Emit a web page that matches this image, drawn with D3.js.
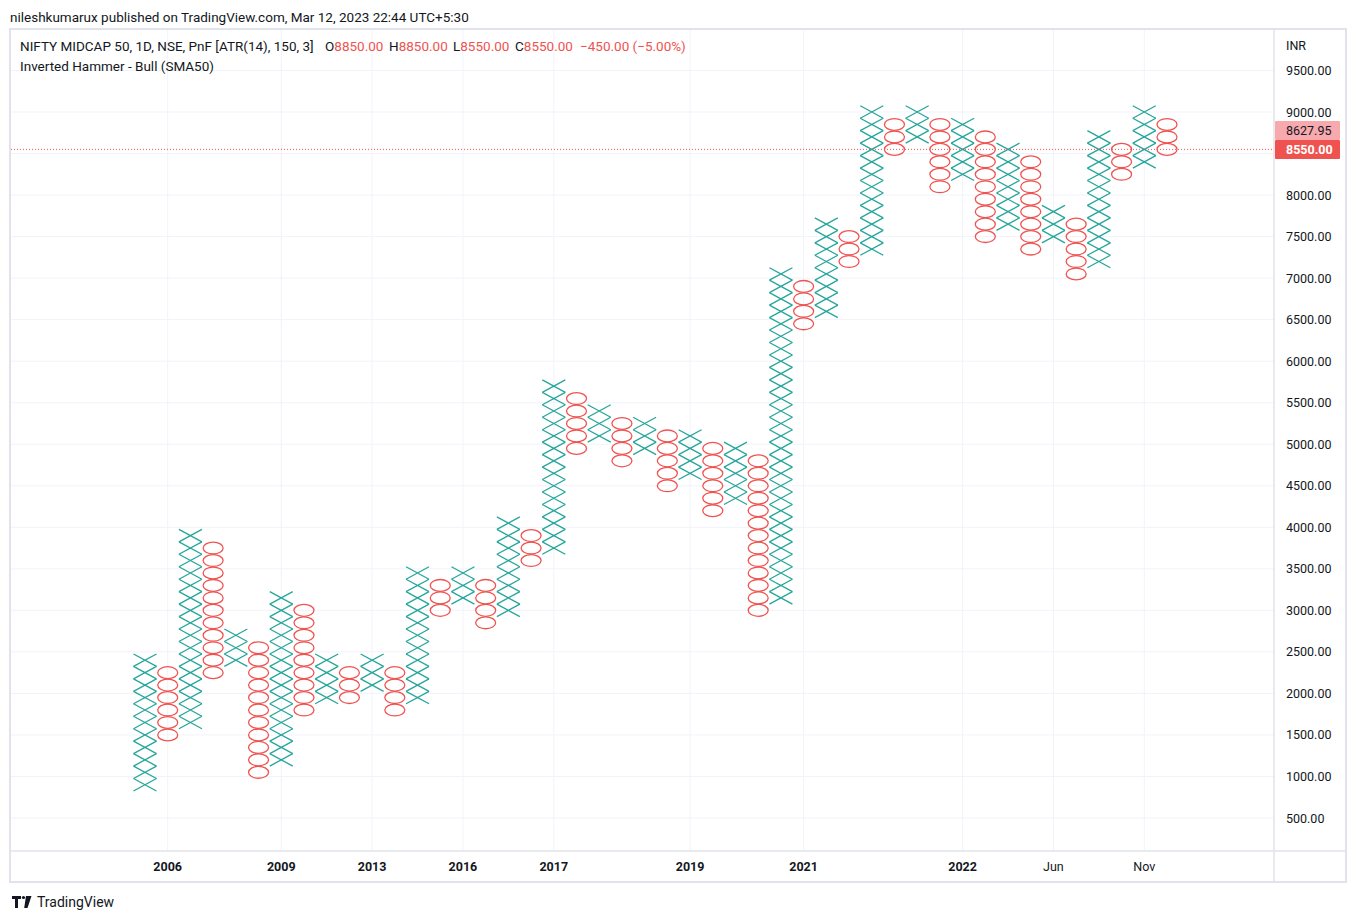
<!DOCTYPE html>
<html><head><meta charset="utf-8">
<script src="https://cdn.jsdelivr.net/npm/d3@7"></script>
<style>
html,body{margin:0;padding:0;background:#fff;}
svg{display:block;font-family:Roboto,"Noto Sans",sans-serif;}
</style></head>
<body>
<svg id="c" width="1357" height="922"></svg>
<script>
// P&F columns (box size 150, reversal 3); first column is X, then alternating
const colTypes = ["X","O","X","O","X","O","X","O","X","O","X","O","X","O","X","O","X","O","X","O","X","O","X","O","X","O","X","O","X","O","X","O","X","O","X","O","X","O","X","O","X","O","X","O","X","O"];
const colLow  = [900,1500,1650,2250,2400,1050,1200,1800,1950,1950,2100,1800,1950,3000,3150,2850,3000,3600,3750,4950,5100,4800,4950,4500,4650,4200,4350,3000,3150,6450,6600,7200,7350,8550,8700,8100,8250,7500,7650,7350,7500,7050,7200,8250,8400,8550];
const colHigh = [2400,2250,3900,3750,2700,2550,3150,3000,2400,2250,2400,2250,3450,3300,3450,3300,4050,3900,5700,5550,5400,5250,5250,5100,5100,4950,4950,4800,7050,6900,7650,7500,9000,8850,9000,8850,8850,8700,8550,8400,7800,7650,8700,8550,9000,8850];
const boxSize = 150;
const priceTicks = [500,1000,1500,2000,2500,3000,3500,4000,4500,5000,5500,6000,6500,7000,7500,8000,9000,9500];
const gridTicks = [500,1000,1500,2000,2500,3000,3500,4000,4500,5000,5500,6000,6500,7000,7500,8000,8500,9000,9500];
const timeTickCols = [1,6,10,14,18,24,29,36,40,44];
const timeTickLabels = ["2006","2009","2013","2016","2017","2019","2021","2022","Jun","Nov"];
const timeTickBold = [true,true,true,true,true,true,true,true,false,false];
const lastClose = 8550, lastMark = 8627.95;
const ohlc = [["O","8850.00"],["H","8850.00"],["L","8550.00"],["C","8550.00"]];
const changeText = "\u2212450.00 (\u22125.00%)";

const svg = d3.select("#c");
const paneL = 10, paneR = 1274, paneT = 30, paneB = 851, outerR = 1346, outerB = 882;
const y = d3.scaleLinear().domain([500, 9000]).range([818, 112]);
const x = d3.scaleLinear().domain([0, colTypes.length - 1]).range([145, 1167]);

// header
svg.append("text").attr("x",10).attr("y",22).attr("font-size",13.5).attr("fill","#131722")
  .text("nileshkumarux published on TradingView.com, Mar 12, 2023 22:44 UTC+5:30");

// frame
svg.append("rect").attr("x",paneL).attr("y",paneT-1).attr("width",outerR-paneL).attr("height",outerB-paneT+1)
  .attr("fill","#fff").attr("stroke","#e0e3eb").attr("stroke-width",2);

// grid
const grid = svg.append("g");
grid.selectAll("line.h").data(gridTicks).join("line")
  .attr("x1",paneL+1).attr("x2",paneR).attr("y1",d=>y(d)).attr("y2",d=>y(d))
  .attr("stroke","#f0f3fa").attr("stroke-width",1);
grid.selectAll("line.v").data(timeTickCols).join("line")
  .attr("x1",d=>x(d)).attr("x2",d=>x(d)).attr("y1",paneT).attr("y2",paneB)
  .attr("stroke","#f0f3fa").attr("stroke-width",1);

// separators
svg.append("line").attr("x1",paneR).attr("x2",paneR).attr("y1",paneT-1).attr("y2",outerB).attr("stroke","#e0e3eb").attr("stroke-width",1.5);
svg.append("line").attr("x1",paneL).attr("x2",outerR).attr("y1",paneB).attr("y2",paneB).attr("stroke","#e0e3eb").attr("stroke-width",1.5);

// boxes
const boxH = Math.abs(y(0) - y(boxSize));
const boxes = [];
colTypes.forEach((t,i)=>{
  for (let v = colLow[i]; v <= colHigh[i] + 1e-6; v += boxSize) boxes.push({t, i, v});
});
const marks = svg.append("g");
const xw = 11.5;
marks.selectAll("path").data(boxes.filter(b=>b.t==="X")).join("path")
  .attr("d",b=>{
    const cx = x(b.i), cy = y(b.v);
    return `M${cx-xw},${cy-boxH/2}L${cx+xw},${cy+boxH/2}M${cx+xw},${cy-boxH/2}L${cx-xw},${cy+boxH/2}`;
  })
  .attr("stroke","#26a69a").attr("stroke-width",1.3).attr("fill","none");
marks.selectAll("ellipse").data(boxes.filter(b=>b.t==="O")).join("ellipse")
  .attr("cx",d=>x(d.i)).attr("cy",d=>y(d.v)).attr("rx",10).attr("ry",boxH/2-0.3)
  .attr("fill","none").attr("stroke","#ef5350").attr("stroke-width",1.3);

// last price dotted line
svg.append("line").attr("x1",paneL+1).attr("x2",paneR).attr("y1",y(lastClose)).attr("y2",y(lastClose))
  .attr("stroke","#ef5350").attr("stroke-width",1).attr("stroke-dasharray","1,2");

// price axis labels
const pa = svg.append("g");
pa.append("text").attr("x",1286).attr("y",50).attr("font-size",12.5).attr("fill","#131722").text("INR");
pa.selectAll("text.t").data(priceTicks).join("text")
  .attr("x",1286).attr("y",d=>y(d)+4.5).attr("font-size",12.5).attr("fill","#131722")
  .text(d=>d3.format(".2f")(d));
// price markers
const redY = y(lastClose);
pa.append("rect").attr("x",paneR+1).attr("y",redY-9.5).attr("width",65).attr("height",19).attr("fill","#ef5350").attr("rx",1);
pa.append("text").attr("x",1286).attr("y",redY+4.5).attr("font-size",12.5).attr("fill","#fff").attr("font-weight","bold").text(d3.format(".2f")(lastClose));
pa.append("rect").attr("x",paneR+1).attr("y",redY-28.5).attr("width",65).attr("height",19).attr("fill","#f7a9ae").attr("rx",1);
pa.append("text").attr("x",1286).attr("y",redY-14.5).attr("font-size",12.5).attr("fill","#131722").text(d3.format(".2f")(lastMark));

// time axis labels
svg.append("g").selectAll("text").data(timeTickCols).join("text")
  .attr("x",d=>x(d)).attr("y",871).attr("text-anchor","middle").attr("font-size",12.5)
  .attr("font-weight",(d,i)=>timeTickBold[i]?"bold":"normal").attr("fill","#131722")
  .text((d,i)=>timeTickLabels[i]);

// legend
const lgY = 51;
svg.append("text").attr("x",20).attr("y",lgY).attr("font-size",13.5).attr("fill","#131722")
  .text("NIFTY MIDCAP 50, 1D, NSE, PnF [ATR(14), 150, 3]");
const lgX = [325, 389, 453, 515];
ohlc.forEach((p,k)=>{
  const t = svg.append("text").attr("x",lgX[k]).attr("y",lgY).attr("font-size",13.5).attr("fill","#131722");
  t.append("tspan").text(p[0]);
  t.append("tspan").attr("fill","#ef5350").text(p[1]);
});
svg.append("text").attr("x",580).attr("y",lgY).attr("font-size",13.5).attr("fill","#ef5350").text(changeText);
svg.append("text").attr("x",20).attr("y",71).attr("font-size",13.5).attr("fill","#131722").text("Inverted Hammer - Bull (SMA50)");

// TradingView footer logo
const logo = svg.append("g").attr("fill","#131722");
logo.append("path").attr("d","M12,896h9v3h-3v9h-3v-9h-3z");
logo.append("circle").attr("cx",23.5).attr("cy",897.5).attr("r",1.6);
logo.append("path").attr("d","M26,896h5.5l-4,12h-3.3z");
svg.append("text").attr("x",37).attr("y",907).attr("font-size",14).attr("fill","#131722").text("TradingView");
</script>
</body></html>
